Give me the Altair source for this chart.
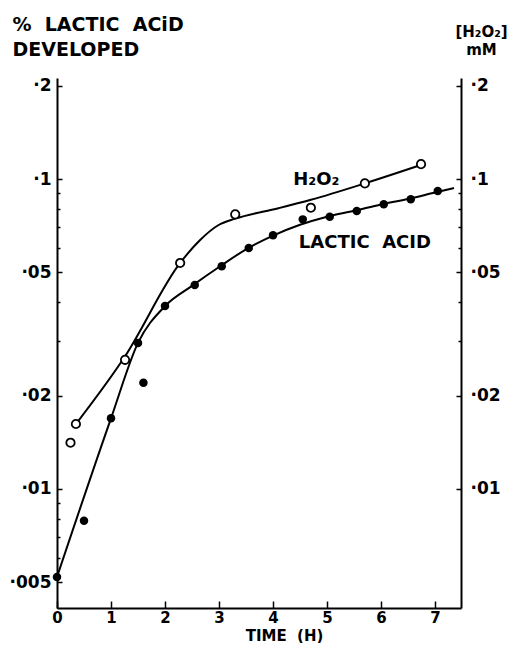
import json
import altair as alt
import pandas as pd

# ---- data ----
lactic_time = [0.0, 0.5, 1.0, 1.5, 1.6, 2.0, 2.55, 3.05, 3.55, 4.0, 4.55, 5.05, 5.55, 6.05, 6.55, 7.05]
lactic_pct = [0.0052, 0.0079, 0.0169, 0.0296, 0.0220, 0.0389, 0.0455, 0.0523, 0.0599, 0.0659,
              0.0741, 0.0756, 0.0788, 0.0829, 0.0860, 0.0915]

h2o2_time = [0.25, 0.35, 1.26, 2.28, 3.3, 4.7, 5.7, 6.74]
h2o2_val = [0.0141, 0.0162, 0.0261, 0.0536, 0.0769, 0.0808, 0.0968, 0.1117]

# hand-drawn fitted curves
lactic_fit_time = [0.0, 1.0, 1.5, 2.0, 2.5, 3.0, 3.5, 4.0, 4.5, 5.0, 5.5, 6.0, 6.5, 7.0, 7.35]
lactic_fit_val = [0.0052, 0.0169, 0.0296, 0.0389, 0.0452, 0.0520, 0.0593, 0.0657, 0.0712, 0.0756,
                  0.0790, 0.0828, 0.0862, 0.0905, 0.0935]
h2o2_fit_time = [0.35, 1.26, 2.28, 2.65, 3.0, 3.3, 4.1, 4.7, 5.7, 6.74]
h2o2_fit_val = [0.0162, 0.0268, 0.0536, 0.0636, 0.0712, 0.0745, 0.0805, 0.0857, 0.0968, 0.1110]

label_text = ["H\u2082O\u2082", "LACTIC\u00a0\u00a0ACID"]
label_time = [4.8, 5.7]
label_val = [0.0993, 0.0622]

x_ticks = [0, 1, 2, 3, 4, 5, 6, 7]
left_major = [0.2, 0.1, 0.05, 0.02, 0.01, 0.005]
left_minor = [0.09, 0.08, 0.07, 0.06, 0.04, 0.03, 0.009, 0.008, 0.007, 0.006]
right_major = [0.2, 0.1, 0.05, 0.02, 0.01]
right_minor = [0.09, 0.08, 0.07, 0.06, 0.04, 0.03]

# ---- layout ----
W, H = 404, 530
FONT = "DejaVu Sans"

lactic_pts = pd.DataFrame({"t": lactic_time, "v": lactic_pct})
h2o2_pts = pd.DataFrame({"t": h2o2_time, "v": h2o2_val})
lactic_fit = pd.DataFrame({"t": lactic_fit_time, "v": lactic_fit_val})
h2o2_fit = pd.DataFrame({"t": h2o2_fit_time, "v": h2o2_fit_val})
labels = pd.DataFrame({"t": label_time, "v": label_val, "txt": label_text})

y_scale = alt.Scale(type="log", domain=[0.00413, 0.2118], nice=False)
x_scale = alt.Scale(domain=[0, 7.48], nice=False, zero=False)

x_axis = alt.Axis(
    orient="top", offset=-H, values=x_ticks, tickSize=7, tickWidth=1.5, tickColor="black",
    domainColor="black", domainWidth=2, grid=False, labelFlush=False, labelOverlap=False,
    labelBaseline="top", labelPadding=-9, labelFont=FONT, labelFontWeight="bold",
    labelFontSize=15, labelColor="black",
    title="TIME\u00a0\u00a0(H)", titleFont=FONT, titleFontWeight="bold", titleFontSize=15,
    titleColor="black", titleX=227, titleY=35, titleAlign="center", titleBaseline="bottom",
)
x_enc = alt.X("t:Q", scale=x_scale, axis=x_axis)


def cond_expr(vals):
    return f"indexof({json.dumps(vals)}, datum.value) >= 0"


left_axis = alt.Axis(
    orient="right", offset=-W, values=left_major + left_minor,
    tickSize={"condition": {"test": cond_expr(left_major), "value": 5}, "value": 3},
    tickWidth=1.5, tickColor="black", domainColor="black", domainWidth=2, grid=False,
    labelOverlap=False, labelAlign="right", labelBaseline="middle", labelPadding=-11,
    labelExpr=f"{cond_expr(left_major)} ? replace(toString(datum.value), '0.', '\u00b7') : ''",
    labelFont=FONT, labelFontWeight="bold", labelFontSize=17, labelColor="black",
    title=["%\u00a0\u00a0LACTIC\u00a0\u00a0ACiD", "DEVELOPED"], titleAngle=0, titleAlign="left",
    titleBaseline="top", titleX=-45, titleY=-63, titleLineHeight=25, titleFont=FONT,
    titleFontWeight="bold", titleFontSize=19, titleColor="black",
)
right_axis = alt.Axis(
    orient="left", offset=-W, values=right_major + right_minor,
    tickSize={"condition": {"test": cond_expr(right_major), "value": 5}, "value": 3},
    tickWidth=1.5, tickColor="black", domainColor="black", domainWidth=2, grid=False,
    labelOverlap=False, labelAlign="left", labelBaseline="middle", labelPadding=-14,
    labelExpr=f"{cond_expr(right_major)} ? replace(toString(datum.value), '0.', '\u00b7') : ''",
    labelFont=FONT, labelFontWeight="bold", labelFontSize=17, labelColor="black",
    title=["[H\u2082O\u2082]", "mM"], titleAngle=0, titleAlign="center",
    titleBaseline="top", titleX=20, titleY=-54, titleLineHeight=18, titleFont=FONT,
    titleFontWeight="bold", titleFontSize=15, titleColor="black",
)

line_l = alt.Chart(lactic_fit).mark_line(color="black", strokeWidth=2, interpolate="monotone").encode(
    x=x_enc, y=alt.Y("v:Q", scale=y_scale, axis=left_axis))
line_h = alt.Chart(h2o2_fit).mark_line(color="black", strokeWidth=2, interpolate="monotone").encode(
    x=x_enc, y=alt.Y("v:Q", scale=y_scale, axis=right_axis))
pts_l = alt.Chart(lactic_pts).mark_point(shape="circle", filled=True, color="black", size=72, opacity=1).encode(
    x=x_enc, y=alt.Y("v:Q", scale=y_scale, axis=None))
pts_h = alt.Chart(h2o2_pts).mark_point(shape="circle", filled=True, fill="white", stroke="black",
                                       strokeWidth=1.8, size=70, opacity=1).encode(
    x=x_enc, y=alt.Y("v:Q", scale=y_scale, axis=None))
txt = alt.Chart(labels).mark_text(font=FONT, fontWeight="bold", fontSize=18, color="black").encode(
    x=x_enc, y=alt.Y("v:Q", scale=y_scale, axis=None), text="txt:N")

chart = alt.layer(line_l, line_h, pts_l, pts_h, txt).resolve_scale(y="shared").resolve_axis(
    y="independent"
).properties(
    width=W, height=H,
    autosize=alt.AutoSizeParams(type="none"),
    padding={"left": 49, "top": 70, "right": 49, "bottom": 35},
    background="white",
).configure_view(strokeWidth=0)

chart.save("out.html", embed_options={"renderer": "svg", "actions": False})
